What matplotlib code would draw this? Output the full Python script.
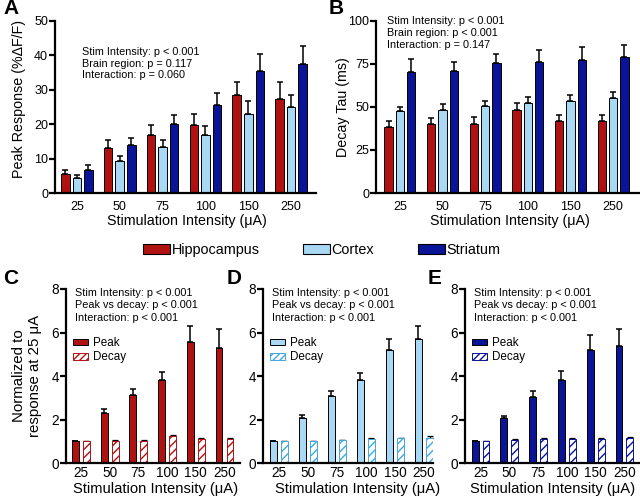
import numpy as np
import matplotlib
matplotlib.use('Agg')
import matplotlib.pyplot as plt
from matplotlib.patches import Patch

plt.rcParams['font.family'] = ['Liberation Sans', 'DejaVu Sans']
plt.rcParams['hatch.linewidth'] = 1.0

stims = ['25', '50', '75', '100', '150', '250']
regions = ['Hippocampus', 'Cortex', 'Striatum']
colors = ['#B01212', '#A9D8F4', '#0A1496']
hatch_colors = ['#B01212', '#3FA9E0', '#0A1496']

# A: peak response (%dF/F)
hip_peak = [5.5, 13.1, 17.0, 19.9, 28.4, 27.3]
hip_peak_err = [1.1, 2.2, 2.7, 3.2, 3.8, 4.9]
ctx_peak = [4.4, 9.3, 13.4, 16.9, 23.0, 24.9]
ctx_peak_err = [0.7, 1.6, 2.0, 2.6, 3.8, 3.7]
str_peak = [6.6, 13.9, 20.2, 25.5, 35.5, 37.6]
str_peak_err = [1.4, 2.0, 2.6, 3.5, 5.0, 5.1]

# B: decay tau (ms)
hip_tau = [38.6, 40.0, 40.0, 48.3, 42.1, 42.1]
hip_tau_err = [3.5, 3.8, 4.2, 3.8, 3.1, 3.1]
ctx_tau = [47.5, 48.5, 50.6, 52.5, 53.7, 55.2]
ctx_tau_err = [2.5, 3.2, 2.7, 3.3, 3.4, 3.5]
str_tau = [70.5, 70.7, 75.3, 76.0, 77.6, 79.0]
str_tau_err = [7.5, 5.7, 5.7, 7.0, 7.0, 7.0]

# C-E: normalized to 25 uA
hip_np = [1.0, 2.3, 3.13, 3.8, 5.58, 5.3]
hip_np_err = [0, 0.17, 0.27, 0.37, 0.7, 0.85]
hip_nd = [1.0, 1.02, 1.03, 1.25, 1.1, 1.1]
hip_nd_err = [0, 0.03, 0.03, 0.03, 0.03, 0.04]
ctx_np = [1.0, 2.08, 3.1, 3.82, 5.2, 5.69]
ctx_np_err = [0, 0.12, 0.2, 0.33, 0.52, 0.59]
ctx_nd = [1.0, 1.0, 1.05, 1.1, 1.13, 1.17]
ctx_nd_err = [0, 0.03, 0.03, 0.03, 0.04, 0.05]
str_np = [1.0, 2.05, 3.03, 3.82, 5.21, 5.38]
str_np_err = [0, 0.13, 0.26, 0.41, 0.69, 0.77]
str_nd = [1.02, 1.07, 1.1, 1.12, 1.12, 1.15]
str_nd_err = [0, 0.03, 0.03, 0.04, 0.04, 0.05]

stats_A = ['Stim Intensity: p < 0.001', 'Brain region: p = 0.117', 'Interaction: p = 0.060']
stats_B = ['Stim Intensity: p < 0.001', 'Brain region: p < 0.001', 'Interaction: p = 0.147']
stats_norm = ['Stim Intensity: p < 0.001', 'Peak vs decay: p < 0.001', 'Interaction: p < 0.001']

W, H = 640, 498
fig = plt.figure(figsize=(6.4, 4.98), dpi=100)


def box(l, t, r, b):
    return [l / W, 1 - b / H, (r - l) / W, (b - t) / H]


def ftext(x, y, s, **kw):
    fig.text(x / W, 1 - y / H, s, **kw)


def style(ax, ymax, ystep, xlim, fs, xpad):
    for s in ['top', 'right']:
        ax.spines[s].set_visible(False)
    for s in ['left', 'bottom']:
        ax.spines[s].set_linewidth(1.6)
    ax.set_ylim(0, ymax)
    ax.set_yticks(np.arange(0, ymax + 0.01, ystep))
    ax.set_xlim(*xlim)
    ax.set_xticks(np.arange(len(stims)))
    ax.set_xticklabels(stims)
    ax.tick_params(axis='x', length=0, pad=xpad, labelsize=fs)
    ax.tick_params(axis='y', length=4, width=1.6, pad=1, labelsize=fs)


def errs(ax, x, y, e, lw=1.1):
    ax.errorbar(x, y, yerr=[np.zeros(len(e)), e], fmt='none', ecolor='black',
                elinewidth=lw, capsize=2.2, capthick=lw, zorder=1)


x = np.arange(len(stims))

# panel A
axA = fig.add_axes(box(55, 21, 316, 193))
for i, (m, e) in enumerate([(hip_peak, hip_peak_err), (ctx_peak, ctx_peak_err), (str_peak, str_peak_err)]):
    xx = x + (i - 1) * 0.27
    errs(axA, xx, m, e)
    axA.bar(xx, m, 0.2, color=colors[i], edgecolor='black', linewidth=0.7, zorder=2)
style(axA, 50, 10, (-0.51, 5.58), 9, 6)

# panel B
axB = fig.add_axes(box(376, 21, 640, 193))
for i, (m, e) in enumerate([(hip_tau, hip_tau_err), (ctx_tau, ctx_tau_err), (str_tau, str_tau_err)]):
    xx = x + (i - 1) * 0.265
    errs(axB, xx, m, e)
    axB.bar(xx, m, 0.2, color=colors[i], edgecolor='black', linewidth=0.7, zorder=2)
style(axB, 100, 25, (-0.56, 5.63), 9, 6)

# panels C-E
norm = [(hip_np, hip_np_err, hip_nd, hip_nd_err),
        (ctx_np, ctx_np_err, ctx_nd, ctx_nd_err),
        (str_np, str_np_err, str_nd, str_nd_err)]
boxes = [(66, 289, 240, 463), (263, 289, 433, 463), (465, 289, 640, 463)]
xlims = [(-0.52, 5.54), (-0.55, 5.31), (-0.54, 5.54)]
for i, (pk, pke, dc, dce) in enumerate(norm):
    ax = fig.add_axes(box(*boxes[i]))
    errs(ax, x - 0.19, pk, pke)
    errs(ax, x + 0.19, dc, dce, lw=0.9)
    ax.bar(x - 0.19, pk, 0.24, color=colors[i], edgecolor='black', linewidth=0.7, zorder=2)
    ax.bar(x + 0.19, dc, 0.24, color='white', edgecolor=hatch_colors[i], hatch='////',
           linewidth=0.7, zorder=2)
    style(ax, 8, 2, xlims[i], 9.8, 2)
    hp = Patch(facecolor=colors[i], edgecolor='black', linewidth=0.7)
    hd = Patch(facecolor='white', edgecolor=hatch_colors[i], hatch='/////', linewidth=0.7)
    l, t, r, b = boxes[i]
    ax.legend([hp, hd], ['Peak', 'Decay'], loc='upper left', frameon=False,
              bbox_to_anchor=((l + 7) / W, 1 - 337 / H), bbox_transform=fig.transFigure,
              fontsize=8.4, handlelength=1.3, handleheight=0.5, handletextpad=0.4,
              labelspacing=0.2, borderpad=0, borderaxespad=0)

# stats text
for j, s in enumerate(stats_A):
    ftext(82, 52 + j * 11.7, s, fontsize=7.8, va='center')
for j, s in enumerate(stats_B):
    ftext(387, 21 + j * 12, s, fontsize=7.8, va='center')
for l, t, r, b in boxes:
    for j, s in enumerate(stats_norm):
        ftext(l + 9, 293 + j * 12.5, s, fontsize=7.8, va='center')

# axis labels
ftext(187, 221, 'Stimulation Intensity (\u03bcA)', fontsize=10.3, ha='center', va='center')
ftext(510, 221, 'Stimulation Intensity (\u03bcA)', fontsize=10.3, ha='center', va='center')
ftext(19, 99, 'Peak Response (%\u0394F/F)', fontsize=10.3, ha='center', va='center', rotation=90)
ftext(343, 107, 'Decay Tau (ms)', fontsize=10.3, ha='center', va='center', rotation=90)
for cx in [156, 358, 553]:
    ftext(cx, 489, 'Stimulation Intensity (\u03bcA)', fontsize=10.6, ha='center', va='center')
ftext(27, 376, 'Normalized to\nresponse at 25 \u03bcA', fontsize=10.8, ha='center', va='center',
      rotation=90, linespacing=1.1)

# panel letters
for s, px, py in [('A', 3, 8), ('B', 329, 8), ('C', 3, 279), ('D', 227, 279), ('E', 428, 279)]:
    ftext(px, py, s, fontsize=15, fontweight='bold', va='center')

# region legend
handles = [Patch(facecolor=c, edgecolor='black', linewidth=0.8) for c in colors]
fig.legend(handles, regions, loc='center', bbox_to_anchor=(321.5 / W, 1 - 250 / H),
           ncol=3, frameon=False, fontsize=10.4, handlelength=1.9, handleheight=0.62,
           handletextpad=0.1, columnspacing=3.0, borderpad=0)

fig.savefig('out.png', dpi=100)
